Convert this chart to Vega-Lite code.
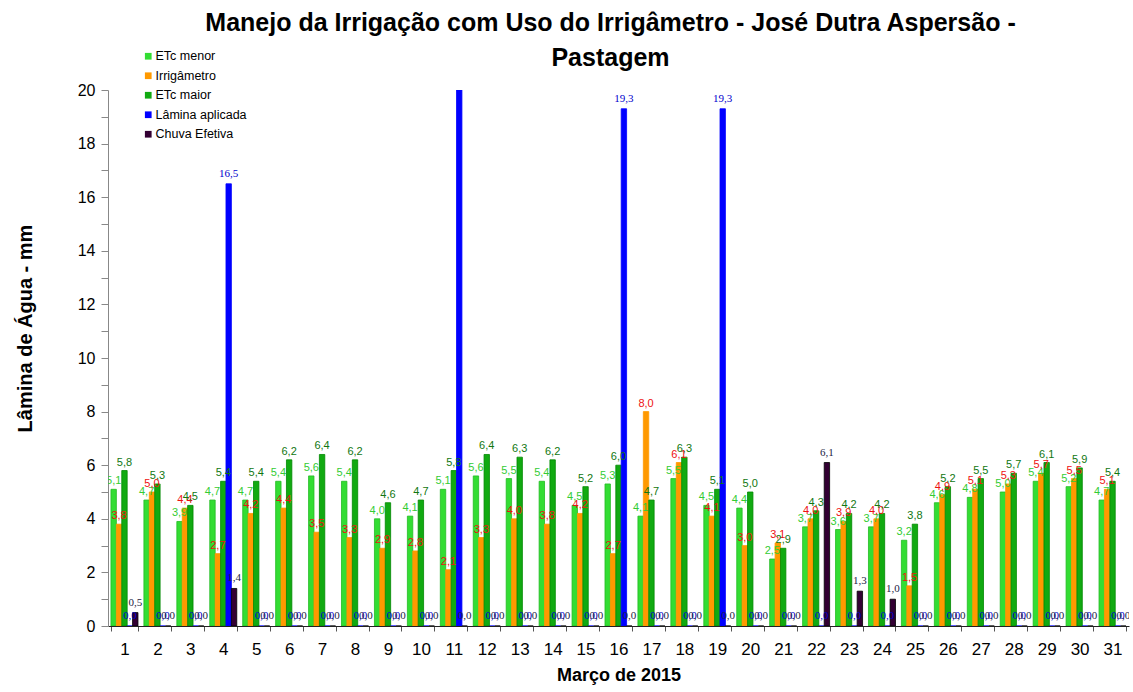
{
  "$schema": "https://vega.github.io/schema/vega-lite/v6.json",
  "autosize": "none",
  "width": 1021,
  "height": 536,
  "padding": {"left": 108, "top": 90, "right": 4, "bottom": 66},
  "background": "white",
  "config": {
    "view": {"stroke": null},
    "font": "Liberation Sans",
    "locale": {"number": {"decimal": ",", "thousands": ".", "grouping": [3], "currency": ["R$", ""]}}
  },
  "title": {
    "text": ["Manejo da Irrigação com Uso do Irrigâmetro - José Dutra Aspersão -", "Pastagem"],
    "fontSize": 25,
    "fontWeight": "bold",
    "font": "Liberation Sans",
    "lineHeight": 35,
    "offset": -21,
    "dx": -8,
    "anchor": "middle",
    "color": "black"
  },
  "data": {
    "values": [
      {"dia": 1, "ETc menor": 5.1, "Irrigâmetro": 3.8, "ETc maior": 5.8, "Lâmina aplicada": 0, "Chuva Efetiva": 0.5},
      {"dia": 2, "ETc menor": 4.7, "Irrigâmetro": 5.0, "ETc maior": 5.3, "Lâmina aplicada": 0, "Chuva Efetiva": 0},
      {"dia": 3, "ETc menor": 3.9, "Irrigâmetro": 4.4, "ETc maior": 4.5, "Lâmina aplicada": 0, "Chuva Efetiva": 0},
      {"dia": 4, "ETc menor": 4.7, "Irrigâmetro": 2.7, "ETc maior": 5.4, "Lâmina aplicada": 16.5, "Chuva Efetiva": 1.4},
      {"dia": 5, "ETc menor": 4.7, "Irrigâmetro": 4.2, "ETc maior": 5.4, "Lâmina aplicada": 0, "Chuva Efetiva": 0},
      {"dia": 6, "ETc menor": 5.4, "Irrigâmetro": 4.4, "ETc maior": 6.2, "Lâmina aplicada": 0, "Chuva Efetiva": 0},
      {"dia": 7, "ETc menor": 5.6, "Irrigâmetro": 3.5, "ETc maior": 6.4, "Lâmina aplicada": 0, "Chuva Efetiva": 0},
      {"dia": 8, "ETc menor": 5.4, "Irrigâmetro": 3.3, "ETc maior": 6.2, "Lâmina aplicada": 0, "Chuva Efetiva": 0},
      {"dia": 9, "ETc menor": 4.0, "Irrigâmetro": 2.9, "ETc maior": 4.6, "Lâmina aplicada": 0, "Chuva Efetiva": 0},
      {"dia": 10, "ETc menor": 4.1, "Irrigâmetro": 2.8, "ETc maior": 4.7, "Lâmina aplicada": 0, "Chuva Efetiva": 0},
      {"dia": 11, "ETc menor": 5.1, "Irrigâmetro": 2.1, "ETc maior": 5.8, "Lâmina aplicada": 20.0, "Chuva Efetiva": 0},
      {"dia": 12, "ETc menor": 5.6, "Irrigâmetro": 3.3, "ETc maior": 6.4, "Lâmina aplicada": 0, "Chuva Efetiva": 0},
      {"dia": 13, "ETc menor": 5.5, "Irrigâmetro": 4.0, "ETc maior": 6.3, "Lâmina aplicada": 0, "Chuva Efetiva": 0},
      {"dia": 14, "ETc menor": 5.4, "Irrigâmetro": 3.8, "ETc maior": 6.2, "Lâmina aplicada": 0, "Chuva Efetiva": 0},
      {"dia": 15, "ETc menor": 4.5, "Irrigâmetro": 4.2, "ETc maior": 5.2, "Lâmina aplicada": 0, "Chuva Efetiva": 0},
      {"dia": 16, "ETc menor": 5.3, "Irrigâmetro": 2.7, "ETc maior": 6.0, "Lâmina aplicada": 19.3, "Chuva Efetiva": 0},
      {"dia": 17, "ETc menor": 4.1, "Irrigâmetro": 8.0, "ETc maior": 4.7, "Lâmina aplicada": 0, "Chuva Efetiva": 0},
      {"dia": 18, "ETc menor": 5.5, "Irrigâmetro": 6.1, "ETc maior": 6.3, "Lâmina aplicada": 0, "Chuva Efetiva": 0},
      {"dia": 19, "ETc menor": 4.5, "Irrigâmetro": 4.1, "ETc maior": 5.1, "Lâmina aplicada": 19.3, "Chuva Efetiva": 0},
      {"dia": 20, "ETc menor": 4.4, "Irrigâmetro": 3.0, "ETc maior": 5.0, "Lâmina aplicada": 0, "Chuva Efetiva": 0},
      {"dia": 21, "ETc menor": 2.5, "Irrigâmetro": 3.1, "ETc maior": 2.9, "Lâmina aplicada": 0, "Chuva Efetiva": 0},
      {"dia": 22, "ETc menor": 3.7, "Irrigâmetro": 4.0, "ETc maior": 4.3, "Lâmina aplicada": 0, "Chuva Efetiva": 6.1},
      {"dia": 23, "ETc menor": 3.6, "Irrigâmetro": 3.9, "ETc maior": 4.2, "Lâmina aplicada": 0, "Chuva Efetiva": 1.3},
      {"dia": 24, "ETc menor": 3.7, "Irrigâmetro": 4.0, "ETc maior": 4.2, "Lâmina aplicada": 0, "Chuva Efetiva": 1.0},
      {"dia": 25, "ETc menor": 3.2, "Irrigâmetro": 1.5, "ETc maior": 3.8, "Lâmina aplicada": 0, "Chuva Efetiva": 0},
      {"dia": 26, "ETc menor": 4.6, "Irrigâmetro": 4.9, "ETc maior": 5.2, "Lâmina aplicada": 0, "Chuva Efetiva": 0},
      {"dia": 27, "ETc menor": 4.8, "Irrigâmetro": 5.1, "ETc maior": 5.5, "Lâmina aplicada": 0, "Chuva Efetiva": 0},
      {"dia": 28, "ETc menor": 5.0, "Irrigâmetro": 5.3, "ETc maior": 5.7, "Lâmina aplicada": 0, "Chuva Efetiva": 0},
      {"dia": 29, "ETc menor": 5.4, "Irrigâmetro": 5.7, "ETc maior": 6.1, "Lâmina aplicada": 0, "Chuva Efetiva": 0},
      {"dia": 30, "ETc menor": 5.2, "Irrigâmetro": 5.5, "ETc maior": 5.9, "Lâmina aplicada": 0, "Chuva Efetiva": 0},
      {"dia": 31, "ETc menor": 4.7, "Irrigâmetro": 5.1, "ETc maior": 5.4, "Lâmina aplicada": 0, "Chuva Efetiva": 0}
    ]
  },
  "transform": [
    {"fold": ["ETc menor", "Irrigâmetro", "ETc maior", "Lâmina aplicada", "Chuva Efetiva"], "as": ["serie", "valor"]}
  ],
  "encoding": {
    "x": {
      "field": "dia",
      "type": "ordinal",
      "scale": {"paddingInner": 0.18, "paddingOuter": 0.09},
      "axis": {
        "title": "Março de 2015",
        "titleFontSize": 18,
        "titleFontWeight": "bold",
        "titleColor": "black",
        "titlePadding": 9,
        "labelAngle": 0,
        "labelFontSize": 17,
        "labelColor": "black",
        "labelPadding": 10,
        "tickBand": "extent",
        "tickSize": 5,
        "tickColor": "#555",
        "domainColor": "#222",
        "grid": false
      }
    },
    "xOffset": {
      "field": "serie",
      "type": "nominal",
      "scale": {"domain": ["ETc menor", "Irrigâmetro", "ETc maior", "Lâmina aplicada", "Chuva Efetiva"], "paddingInner": 0, "paddingOuter": 0}
    },
    "y": {
      "field": "valor",
      "type": "quantitative",
      "scale": {"domain": [0, 20], "nice": false},
      "axis": {
        "title": "Lâmina de Água - mm",
        "titleFontSize": 20,
        "titleFontWeight": "bold",
        "titleColor": "black",
        "titleX": -73,
        "titleY": 238,
        "titleBaseline": "bottom",
        "titleAngle": -90,
        "titleAlign": "center",
        "values": [0, 1, 2, 3, 4, 5, 6, 7, 8, 9, 10, 11, 12, 13, 14, 15, 16, 17, 18, 19, 20],
        "labelExpr": "datum.value % 2 === 0 ? datum.label : ''",
        "format": "d",
        "labelFontSize": 16,
        "labelColor": "black",
        "labelPadding": 6,
        "tickSize": 7,
        "tickColor": "#888",
        "domainColor": "#888",
        "grid": false
      }
    }
  },
  "layer": [
    {
      "mark": {"type": "bar", "clip": true, "strokeWidth": 0.8},
      "encoding": {
        "color": {
          "field": "serie",
          "type": "nominal",
          "scale": {
            "domain": ["ETc menor", "Irrigâmetro", "ETc maior", "Lâmina aplicada", "Chuva Efetiva"],
            "range": ["#33dd33", "#ff9900", "#11aa11", "#0000ff", "#330033"]
          },
          "legend": {
            "title": null,
            "orient": "none",
            "legendX": 34,
            "legendY": -40,
            "symbolType": "square",
            "symbolSize": 45,
            "symbolStrokeWidth": 0,
            "labelFontSize": 12.5,
            "labelColor": "black",
            "labelFont": "Liberation Sans",
            "rowPadding": 6.5,
            "labelOffset": 1
          }
        },
        "stroke": {
          "field": "serie",
          "type": "nominal",
          "scale": {
            "domain": ["ETc menor", "Irrigâmetro", "ETc maior", "Lâmina aplicada", "Chuva Efetiva"],
            "range": ["#22bb22", "#ff9900", "#008800", "#0000ff", "#000000"]
          },
          "legend": null
        }
      }
    },
    {
      "transform": [{"filter": "datum.serie === 'ETc menor'"}],
      "mark": {"type": "text", "baseline": "bottom", "dy": -3, "fontSize": 11, "color": "#33cc33", "clip": true},
      "encoding": {"text": {"field": "valor", "type": "quantitative", "format": ".1f"}}
    },
    {
      "transform": [{"filter": "datum.serie === 'Irrigâmetro'"}],
      "mark": {"type": "text", "baseline": "bottom", "dy": -3, "fontSize": 11, "color": "#ee1111", "clip": true},
      "encoding": {"text": {"field": "valor", "type": "quantitative", "format": ".1f"}}
    },
    {
      "transform": [{"filter": "datum.serie === 'ETc maior'"}],
      "mark": {"type": "text", "baseline": "bottom", "dy": -3, "fontSize": 11, "color": "#117711", "clip": true},
      "encoding": {"text": {"field": "valor", "type": "quantitative", "format": ".1f"}}
    },
    {
      "transform": [{"filter": "datum.serie === 'Lâmina aplicada'"}],
      "mark": {"type": "text", "baseline": "bottom", "dy": -5, "fontSize": 11, "font": "Liberation Serif", "color": "#0000cc", "clip": true},
      "encoding": {"text": {"field": "valor", "type": "quantitative", "format": ".1f"}}
    },
    {
      "transform": [{"filter": "datum.serie === 'Chuva Efetiva'"}],
      "mark": {"type": "text", "baseline": "bottom", "dy": -5, "fontSize": 11, "font": "Liberation Serif", "color": "#222244", "clip": true},
      "encoding": {"text": {"field": "valor", "type": "quantitative", "format": ".1f"}}
    }
  ]
}
